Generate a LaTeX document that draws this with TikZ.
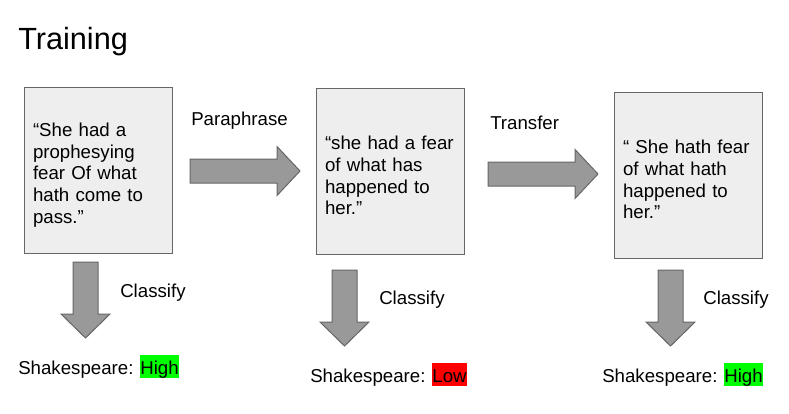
\documentclass[tikz,border=0pt]{standalone}
\usepackage{fontspec}
\setmainfont{Liberation Sans}
\usetikzlibrary{positioning}

\definecolor{boxgray}{HTML}{EEEEEE}
\definecolor{linegray}{HTML}{666666}
\definecolor{arrowgray}{HTML}{999999}
\definecolor{hlgreen}{HTML}{00FF00}
\definecolor{hlred}{HTML}{FF0000}

% highlighted score word
\newcommand{\hlword}[2]{{\setlength{\fboxsep}{0pt}\colorbox{#1}{\rule[-3pt]{0pt}{17.25pt}#2}}}
% pushes the box text a little down
\newcommand{\toppad}{\rule{0pt}{17pt}}

\tikzset{
	sentence/.style={draw=linegray, fill=boxgray, line width=0.75pt, text width=97.5pt,
		minimum height=124.5pt, inner xsep=6.75pt, align=left,
		font=\fontsize{14}{16.3}\selectfont},
	lbl/.style={anchor=base west, inner sep=0pt, font=\fontsize{14}{17.25}\selectfont},
	blockarrow/.style={draw=linegray, fill=arrowgray, line width=0.75pt, line join=miter},
	goright/.pic={\draw[blockarrow] (0,-12) -- (87,-12) -- (87,-24.5) -- (110,0) -- (87,24.5) -- (87,12) -- (0,12) -- cycle;},
	godown/.pic={\draw[blockarrow] (-12.5,0) -- (-12.5,52) -- (-24.5,52) -- (0,76) -- (24.5,52) -- (12.5,52) -- (12.5,0) -- cycle;}
}

\begin{document}
\begin{tikzpicture}[x=0.75pt, y=-0.75pt]
	\useasboundingbox (0,0) rectangle (789,414);

	\node[lbl, font=\fontsize{23}{27}\selectfont] (title) at (18,49) {Training};

	\node[sentence] (orig) at (98,170.5) {\toppad``She had a\\ prophesying\\ fear Of what\\ hath come to\\ pass.''};
	\node[sentence] (para) at (390,171) {\toppad``she had a fear\\ of what has\\ happened to\\ her.''};
	\node[sentence] (trans) at (688,175) {\toppad`` She hath fear\\ of what hath\\ happened to\\ her.''};

	% arrows between the sentences
	\pic at (190,171) {goright};
	\pic at (488,174) {goright};
	\node[lbl] (paralbl) at (191,125) {Paraphrase};
	\node[lbl] (translbl) at (490,129) {Transfer};

	% classifier arrows
	\pic at (85.5,262) {godown};
	\pic at (344.5,270) {godown};
	\pic at (670.5,270) {godown};
	\node[lbl] (cls1) at (120,297) {Classify};
	\node[lbl] (cls2) at (379,304) {Classify};
	\node[lbl] (cls3) at (703,304) {Classify};

	\node[lbl] (score1) at (18,374) {Shakespeare: \hlword{hlgreen}{High}};
	\node[lbl] (score2) at (310,382) {Shakespeare: \hlword{hlred}{Low}};
	\node[lbl] (score3) at (602,382) {Shakespeare: \hlword{hlgreen}{High}};
\end{tikzpicture}
\end{document}
